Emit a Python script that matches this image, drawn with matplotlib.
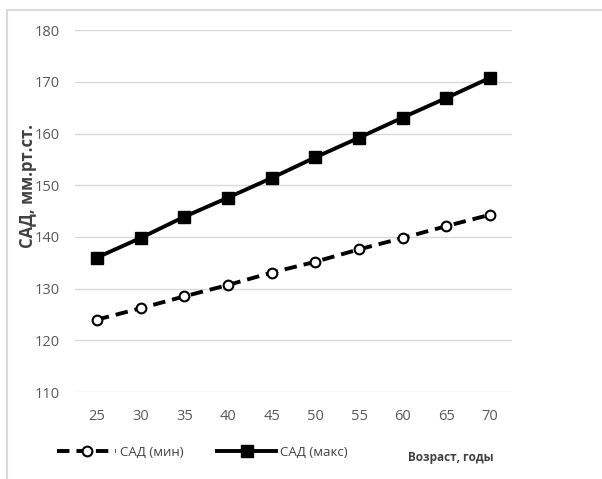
import matplotlib.pyplot as plt
from matplotlib.patches import Rectangle

# data
ages = [25, 30, 35, 40, 45, 50, 55, 60, 65, 70]
sad_min = [124.0, 126.2, 128.5, 130.7, 133.1, 135.2, 137.6, 139.8, 142.1, 144.3]
sad_max = [136.0, 139.8, 143.9, 147.6, 151.4, 155.4, 159.2, 163.1, 166.9, 170.8]
y_ticks = [110, 120, 130, 140, 150, 160, 170, 180]

plt.rcParams['font.family'] = ['Open Sans', 'DejaVu Sans']

fig = plt.figure(figsize=(6.02, 4.79), dpi=100)
ax = fig.add_axes([0.1246, 0.1816, 0.7259, 0.7554])

# light frame around the chart area
fig.patches.append(Rectangle((7 / 602, -0.1), 1.1, 1 - 10 / 479 + 0.1,
                             transform=fig.transFigure, fill=False,
                             edgecolor='#d9d9d9', linewidth=1.5))

x = list(range(len(ages)))
ax.plot(x, sad_min, color='black', lw=2.8, dashes=(3.2, 1.8),
        marker='o', markersize=7, markerfacecolor='white',
        markeredgecolor='black', markeredgewidth=1.5, label='САД (мин)')
ax.plot(x, sad_max, color='black', lw=2.8,
        marker='s', markersize=8, markerfacecolor='black',
        markeredgecolor='black', label='САД (макс)')

ax.set_xlim(-0.5, len(ages) - 0.5)
ax.set_ylim(110, 180)
ax.set_xticks(x)
ax.set_xticklabels([str(a) for a in ages])
ax.set_yticks(y_ticks)
ax.tick_params(length=0, labelsize=10.5, labelcolor='#595959')
ax.tick_params(axis='x', pad=12)
ax.tick_params(axis='y', pad=11)
ax.grid(axis='y', color='#d9d9d9', lw=1)
ax.set_axisbelow(True)
for s in ax.spines.values():
    s.set_visible(False)

fig.text(28 / 602, 1 - 186 / 479, 'САД, мм.рт.ст.', rotation=90, ha='center', va='center',
         fontsize=12, fontweight='bold', color='#404040')
fig.text(451 / 602, 1 - 457 / 479, 'Возраст, годы', ha='center', va='center',
         fontsize=8.5, fontweight='bold', color='#404040')

fig.legend(loc='center left', bbox_to_anchor=(45 / 602, 1 - 452 / 479), ncol=2,
           frameon=False, handlelength=4.5, numpoints=1, columnspacing=2.5,
           handletextpad=0.3, fontsize=9.5, labelcolor='#404040')

fig.savefig('out.png', dpi=100)
